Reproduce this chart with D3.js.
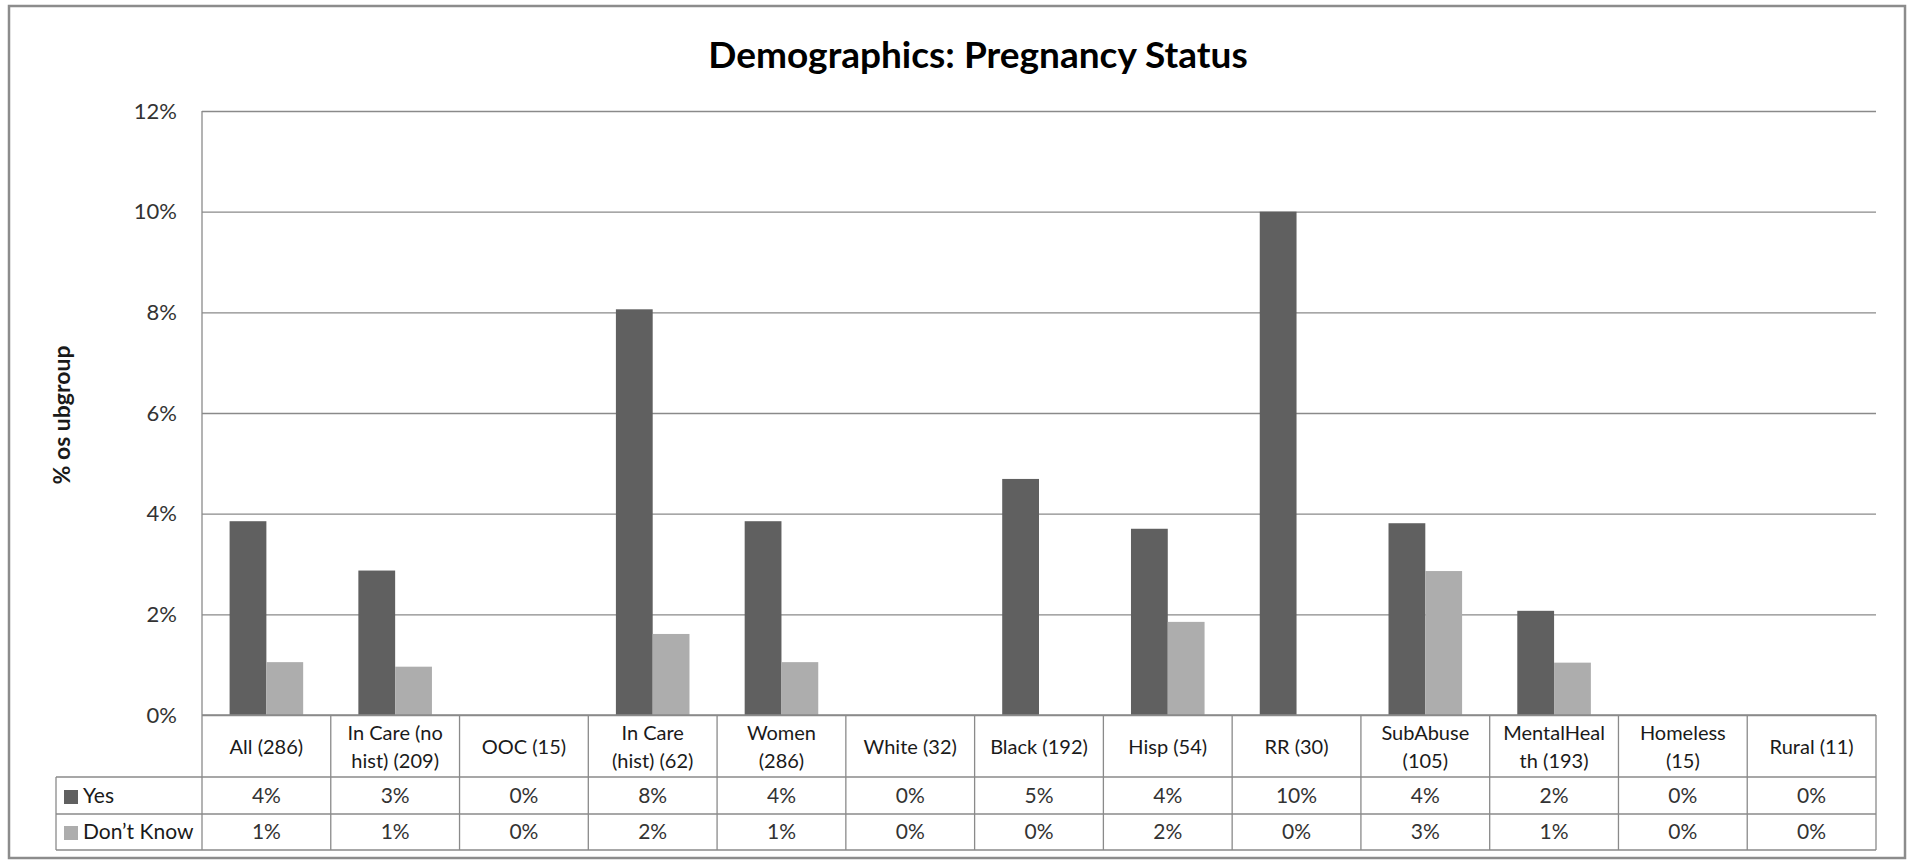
<!DOCTYPE html>
<html lang="en-us">
  <meta charset="utf-8">
  <head>
    <title>Demographics: Pregnancy Status</title>
    <script src="https://d3js.org/d3.v7.min.js"></script>
    <style>
      body { margin: 0; background: #fff; }
      text { font-family: Lato, "Open Sans", sans-serif; fill: #1a1a1a; }
    </style>
  </head>
  <body>
    <script>
    var width = 1913,
        height = 861;

    // categories (two-line labels split on \n, as in the table header)
    var categories = ["All (286)", "In Care (no\nhist) (209)", "OOC (15)", "In Care\n(hist) (62)",
      "Women\n(286)", "White (32)", "Black (192)", "Hisp (54)", "RR (30)", "SubAbuse\n(105)",
      "MentalHeal\nth (193)", "Homeless\n(15)", "Rural (11)"];
    var seriesNames = ["Yes", "Don\u2019t Know"];
    var yesValues = [0.0385, 0.0287, 0, 0.0806, 0.0385, 0, 0.0469, 0.0370, 0.10, 0.0381, 0.0207, 0, 0];
    var dkValues  = [0.0105, 0.0096, 0, 0.0161, 0.0105, 0, 0, 0.0185, 0, 0.0286, 0.0104, 0, 0];
    var seriesColors = ["#606060", "#adadad"];
    var yTicks = [0, 0.02, 0.04, 0.06, 0.08, 0.10, 0.12];

    var plot = {left: 202, right: 1876, top: 111, bottom: 715};
    var rowLines = [777, 814, 850];
    var tableLeft = 56;
    var lineColor = "#8a8a8a";
    var fmt = d3.format(".0%");

    var svg = d3.select("body").append("svg")
      .attr("width", width)
      .attr("height", height);

    // outer frame
    svg.append("rect")
      .attr("x", 9).attr("y", 6)
      .attr("width", 1896).attr("height", 852)
      .style("fill", "none").style("stroke", "#8c8c8c").style("stroke-width", 2.5);

    svg.append("text")
      .attr("x", 978).attr("y", 68)
      .attr("text-anchor", "middle")
      .style("font-size", "37px").style("font-weight", "bold").style("fill", "#000")
      .text("Demographics: Pregnancy Status");

    var x = d3.scaleBand().domain(categories).range([plot.left, plot.right]).padding(0);
    var barW = x.bandwidth() / 3.5; // excel gap width 150%
    var xSub = d3.scaleBand().domain(seriesNames)
      .range([(x.bandwidth() - 2 * barW) / 2, (x.bandwidth() + 2 * barW) / 2]);
    var y = d3.scaleLinear().domain([0, 0.12]).range([plot.bottom, plot.top]);

    // gridlines + tick labels
    var yAxis = svg.append("g")
      .attr("transform", "translate(" + plot.left + ",0)")
      .call(d3.axisLeft(y).tickValues(yTicks).tickFormat(fmt)
        .tickSize(-(plot.right - plot.left)).tickPadding(25));
    yAxis.select(".domain").remove();
    yAxis.selectAll(".tick line").style("stroke", lineColor).style("stroke-width", 1.3);
    yAxis.selectAll(".tick text")
      .style("font-size", "22px").style("font-family", "Lato").style("fill", "#333")
      .attr("dy", "0.32em");

    svg.append("text")
      .attr("transform", "translate(62,415) rotate(-90)")
      .attr("text-anchor", "middle")
      .attr("dy", "0.35em")
      .style("font-size", "23px").style("font-weight", "bold")
      .text("% os ubgroup");

    // bars
    var allSeries = [yesValues, dkValues];
    allSeries.forEach(function(vals, si) {
      svg.append("g").selectAll("rect")
        .data(categories)
        .enter().append("rect")
        .attr("x", function(d) { return x(d) + xSub(seriesNames[si]); })
        .attr("width", xSub.bandwidth())
        .attr("y", function(d, i) { return y(vals[i]); })
        .attr("height", function(d, i) { return y(0) - y(vals[i]); })
        .style("fill", seriesColors[si]);
    });

    // data table grid
    var grid = svg.append("g").style("stroke", lineColor).style("stroke-width", 1.3);
    grid.append("line").attr("x1", plot.left).attr("x2", plot.right)
      .attr("y1", plot.bottom).attr("y2", plot.bottom);
    rowLines.forEach(function(ry) {
      grid.append("line").attr("x1", tableLeft).attr("x2", plot.right).attr("y1", ry).attr("y2", ry);
    });
    grid.append("line").attr("x1", tableLeft).attr("x2", tableLeft)
      .attr("y1", rowLines[0]).attr("y2", rowLines[2]);
    grid.append("line").attr("x1", plot.left).attr("x2", plot.left)
      .attr("y1", plot.top).attr("y2", rowLines[2]);
    categories.forEach(function(c) {
      var xr = x(c) + x.bandwidth();
      grid.append("line").attr("x1", xr).attr("x2", xr)
        .attr("y1", plot.bottom).attr("y2", rowLines[2]);
    });

    // category labels
    var catLabels = svg.append("g").selectAll("text")
      .data(categories)
      .enter().append("text")
      .attr("text-anchor", "middle")
      .style("font-size", "20px")
      .attr("x", function(d) { return x(d) + x.bandwidth() / 2; })
      .attr("y", function(d) { return d.indexOf("\n") >= 0 ? 740 : 754; });
    catLabels.each(function(d) {
      var t = d3.select(this);
      d.split("\n").forEach(function(line, li) {
        t.append("tspan")
          .attr("x", x(d) + x.bandwidth() / 2)
          .attr("dy", li === 0 ? 0 : 28)
          .text(line);
      });
    });

    // table rows: legend key + values
    var rowBase = [803, 839];
    allSeries.forEach(function(vals, si) {
      svg.append("rect")
        .attr("x", 64).attr("y", rowBase[si] - 13)
        .attr("width", 14).attr("height", 14)
        .style("fill", seriesColors[si]);
      svg.append("text")
        .attr("x", 83).attr("y", rowBase[si])
        .style("font-size", "21px")
        .text(seriesNames[si]);
      svg.append("g").selectAll("text")
        .data(categories)
        .enter().append("text")
        .attr("text-anchor", "middle")
        .attr("x", function(d) { return x(d) + x.bandwidth() / 2; })
        .attr("y", rowBase[si])
        .style("font-size", "21px")
        .style("fill", "#333")
        .text(function(d, i) { return fmt(vals[i]); });
    });
    </script>
  </body>
</html>
